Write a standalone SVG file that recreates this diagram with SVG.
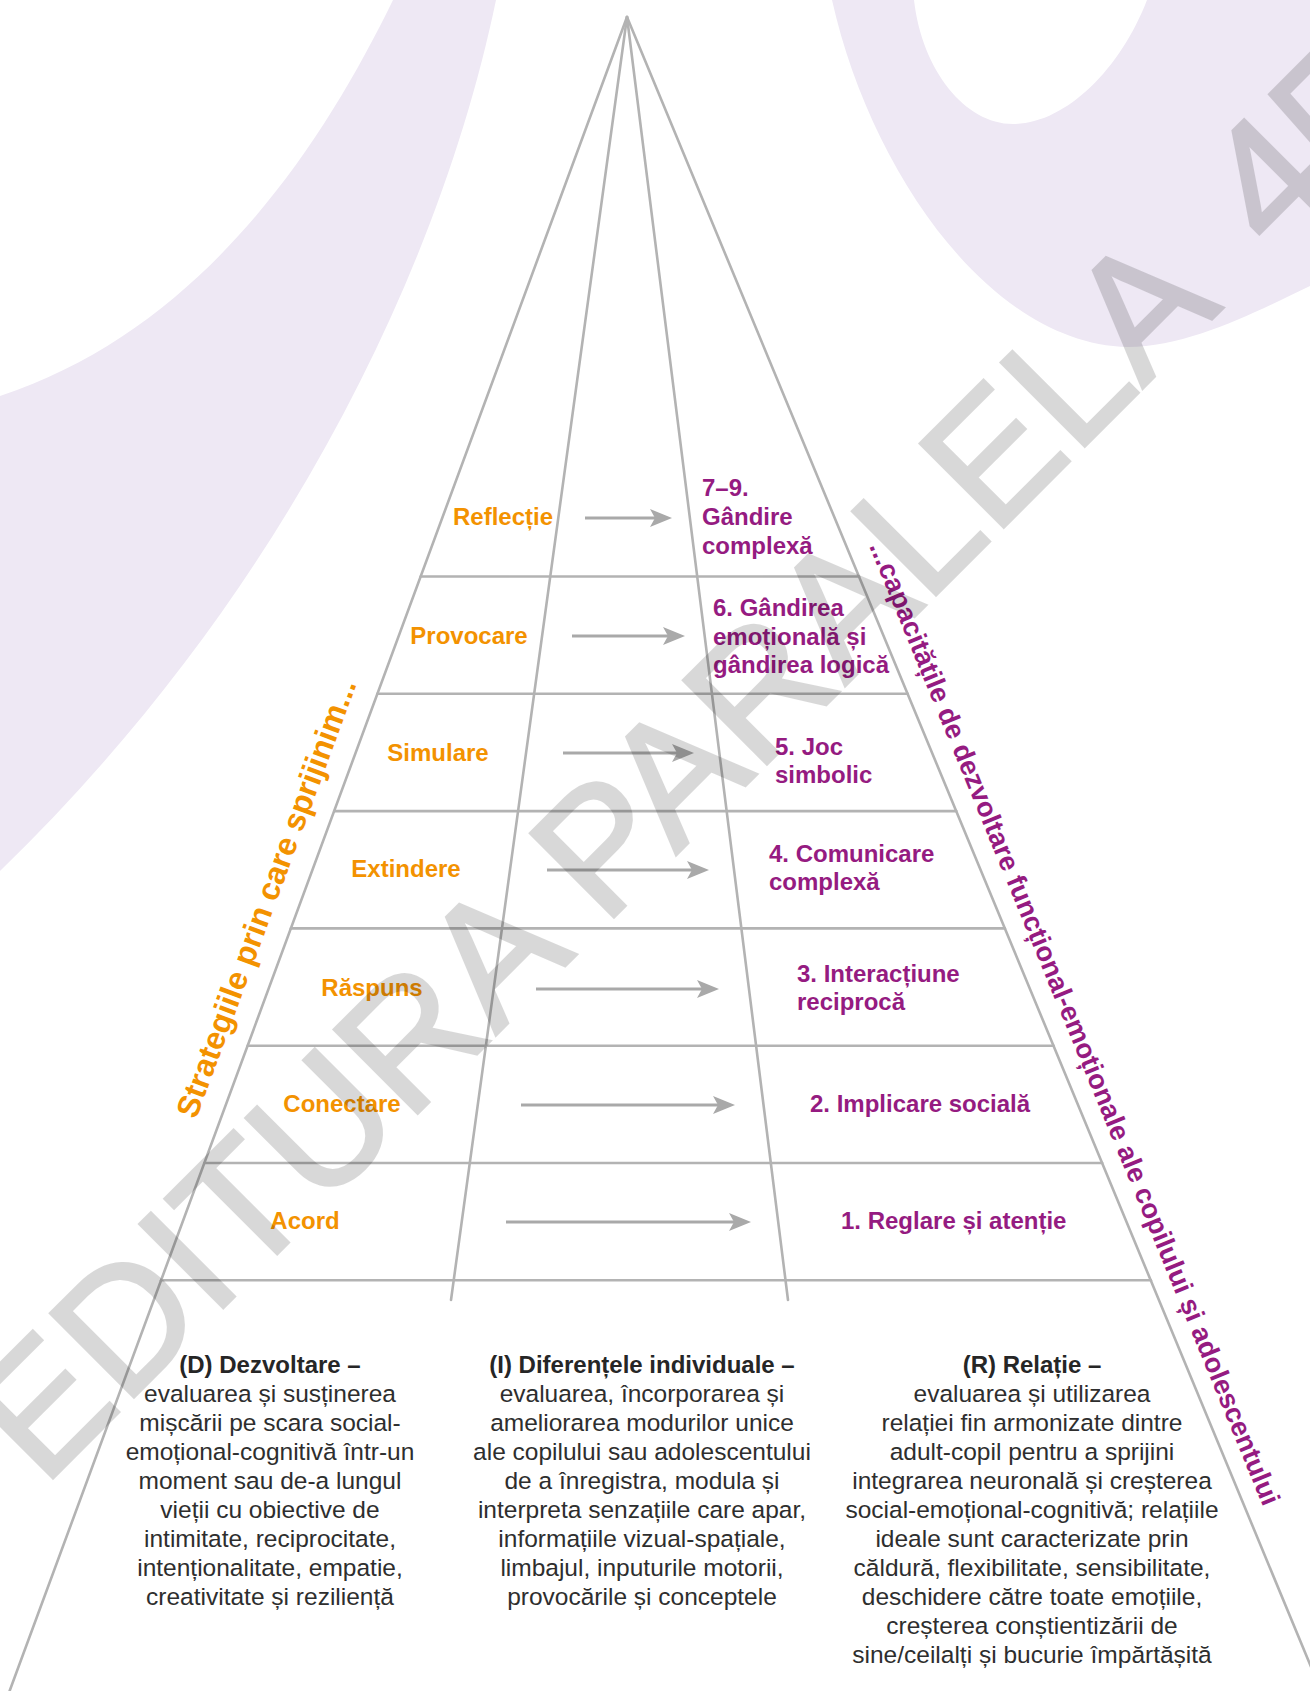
<svg xmlns="http://www.w3.org/2000/svg" width="1310" height="1691" viewBox="0 0 1310 1691">
<defs>
<style>
.bg{fill:#eee8f4}
.grid line{stroke:#b3b3b3;stroke-width:2.6;fill:none;stroke-linecap:round}
.lbl{font-family:"Liberation Sans",Arial,sans-serif;font-weight:bold;font-size:24px;fill:#f39200;text-anchor:middle}
.stage{font-family:"Liberation Sans",Arial,sans-serif;font-weight:bold;font-size:24px;fill:#951b81}
.arrow{stroke:#a9a9a9;stroke-width:3;fill:none;marker-end:url(#ah)}
.desc{font-family:"Liberation Sans",Arial,sans-serif;font-size:24.5px;fill:#2e2e2e;text-anchor:middle}
.hd{font-weight:bold;font-size:24px;fill:#262626}
.side{font-family:"Liberation Sans",Arial,sans-serif;font-weight:bold}
.wm{font-family:"Liberation Sans",Arial,sans-serif;font-size:172px;fill:#000;stroke:#000;stroke-width:3}
</style>
<marker id="ah" markerUnits="userSpaceOnUse" markerWidth="24" markerHeight="20" refX="6" refY="9" orient="auto" viewBox="0 0 24 20">
<path d="M0,0 L22,9 L0,18 L5,9 Z" fill="#a9a9a9"/>
</marker>
</defs>
<rect width="1310" height="1691" fill="#ffffff"/>
<g id="background">
<path class="bg" d="M496,0 C440,270 280,600 0,871 L0,396 C200,330 320,150 393,0 Z"/>
<path class="bg" fill-rule="evenodd" d="M832,0 C870,170 990,345 1128,347 C1190,347 1260,310 1310,286 L1310,0 Z M914,0 C922,70 965,124 1013,124 C1065,124 1120,70 1147,0 Z"/>
</g>
<g id="grid" class="grid">
<line x1="627" y1="17" x2="9.6" y2="1691"/>
<line x1="627" y1="17" x2="1321" y2="1691"/>
<line x1="627" y1="17" x2="451" y2="1300"/>
<line x1="627" y1="17" x2="788" y2="1300"/>
<line x1="420.7" y1="576.5" x2="859" y2="576.5"/>
<line x1="377.4" y1="693.8" x2="907.7" y2="693.8"/>
<line x1="334.2" y1="811.1" x2="956.3" y2="811.1"/>
<line x1="290.9" y1="928.4" x2="1004.9" y2="928.4"/>
<line x1="247.7" y1="1045.7" x2="1053.6" y2="1045.7"/>
<line x1="204.4" y1="1163" x2="1102.2" y2="1163"/>
<line x1="161.1" y1="1280.3" x2="1150.9" y2="1280.3"/>
</g>
<g id="connectors">
<line class="arrow" x1="585" y1="518" x2="656" y2="518"/>
<line class="arrow" x1="572" y1="636" x2="669" y2="636"/>
<line class="arrow" x1="563" y1="753" x2="678" y2="753"/>
<line class="arrow" x1="547" y1="870" x2="693" y2="870"/>
<line class="arrow" x1="536" y1="989" x2="703" y2="989"/>
<line class="arrow" x1="521" y1="1105" x2="719" y2="1105"/>
<line class="arrow" x1="506" y1="1222" x2="735" y2="1222"/>
</g>
<g id="strategy-reflectie"><text class="lbl" x="503" y="525">Reflecție</text></g>
<g id="strategy-provocare"><text class="lbl" x="469" y="644">Provocare</text></g>
<g id="strategy-simulare"><text class="lbl" x="438" y="761">Simulare</text></g>
<g id="strategy-extindere"><text class="lbl" x="406" y="877">Extindere</text></g>
<g id="strategy-raspuns"><text class="lbl" x="372" y="996">Răspuns</text></g>
<g id="strategy-conectare"><text class="lbl" x="342" y="1112">Conectare</text></g>
<g id="strategy-acord"><text class="lbl" x="305" y="1229">Acord</text></g>
<g id="stage-7-9"><text class="stage" x="702" y="496"><tspan x="702">7–9.</tspan><tspan x="702" dy="29">Gândire</tspan><tspan x="702" dy="29">complexă</tspan></text></g>
<g id="stage-6"><text class="stage" x="713" y="616"><tspan x="713">6. Gândirea</tspan><tspan x="713" dy="28.5">emoțională și</tspan><tspan x="713" dy="28.5">gândirea logică</tspan></text></g>
<g id="stage-5"><text class="stage" x="775" y="755"><tspan x="775">5. Joc</tspan><tspan x="775" dy="28">simbolic</tspan></text></g>
<g id="stage-4"><text class="stage" x="769" y="862"><tspan x="769">4. Comunicare</tspan><tspan x="769" dy="28">complexă</tspan></text></g>
<g id="stage-3"><text class="stage" x="797" y="982"><tspan x="797">3. Interacțiune</tspan><tspan x="797" dy="28">reciprocă</tspan></text></g>
<g id="stage-2"><text class="stage" x="810" y="1112">2. Implicare socială</text></g>
<g id="stage-1"><text class="stage" x="841" y="1229">1. Reglare și atenție</text></g>
<g id="side-left"><text class="side" font-size="31.8" fill="#f39200" transform="translate(196,1120) rotate(-69.76)">Strategiile prin care sprijinim...</text></g>
<g id="side-right"><text class="side" font-size="27.3" fill="#951b81" transform="translate(869,546) rotate(67.7)">...capacitățile de dezvoltare funcțional-emoționale ale copilului și adolescentului</text></g>
<g id="desc-d"><text class="desc" y="1373"><tspan class="hd" x="270">(D) Dezvoltare –</tspan><tspan x="270" dy="29">evaluarea și susținerea</tspan><tspan x="270" dy="29">mișcării pe scara social-</tspan><tspan x="270" dy="29">emoțional-cognitivă într-un</tspan><tspan x="270" dy="29">moment sau de-a lungul</tspan><tspan x="270" dy="29">vieții cu obiective de</tspan><tspan x="270" dy="29">intimitate, reciprocitate,</tspan><tspan x="270" dy="29">intenționalitate, empatie,</tspan><tspan x="270" dy="29">creativitate și reziliență</tspan></text></g>
<g id="desc-i"><text class="desc" y="1373"><tspan class="hd" x="642">(I) Diferențele individuale –</tspan><tspan x="642" dy="29">evaluarea, încorporarea și</tspan><tspan x="642" dy="29">ameliorarea modurilor unice</tspan><tspan x="642" dy="29">ale copilului sau adolescentului</tspan><tspan x="642" dy="29">de a înregistra, modula și</tspan><tspan x="642" dy="29">interpreta senzațiile care apar,</tspan><tspan x="642" dy="29">informațiile vizual-spațiale,</tspan><tspan x="642" dy="29">limbajul, inputurile motorii,</tspan><tspan x="642" dy="29">provocările și conceptele</tspan></text></g>
<g id="desc-r"><text class="desc" y="1373"><tspan class="hd" x="1032">(R) Relație –</tspan><tspan x="1032" dy="29">evaluarea și utilizarea</tspan><tspan x="1032" dy="29">relației fin armonizate dintre</tspan><tspan x="1032" dy="29">adult-copil pentru a sprijini</tspan><tspan x="1032" dy="29">integrarea neuronală și creșterea</tspan><tspan x="1032" dy="29">social-emoțional-cognitivă; relațiile</tspan><tspan x="1032" dy="29">ideale sunt caracterizate prin</tspan><tspan x="1032" dy="29">căldură, flexibilitate, sensibilitate,</tspan><tspan x="1032" dy="29">deschidere către toate emoțiile,</tspan><tspan x="1032" dy="29">creșterea conștientizării de</tspan><tspan x="1032" dy="29">sine/ceilalți și bucurie împărtășită</tspan></text></g>
<g id="watermark" opacity="0.15"><text class="wm" transform="translate(43,1488) rotate(-45)">EDITURA PARALELA <tspan dx="35">45</tspan></text></g>
</svg>
